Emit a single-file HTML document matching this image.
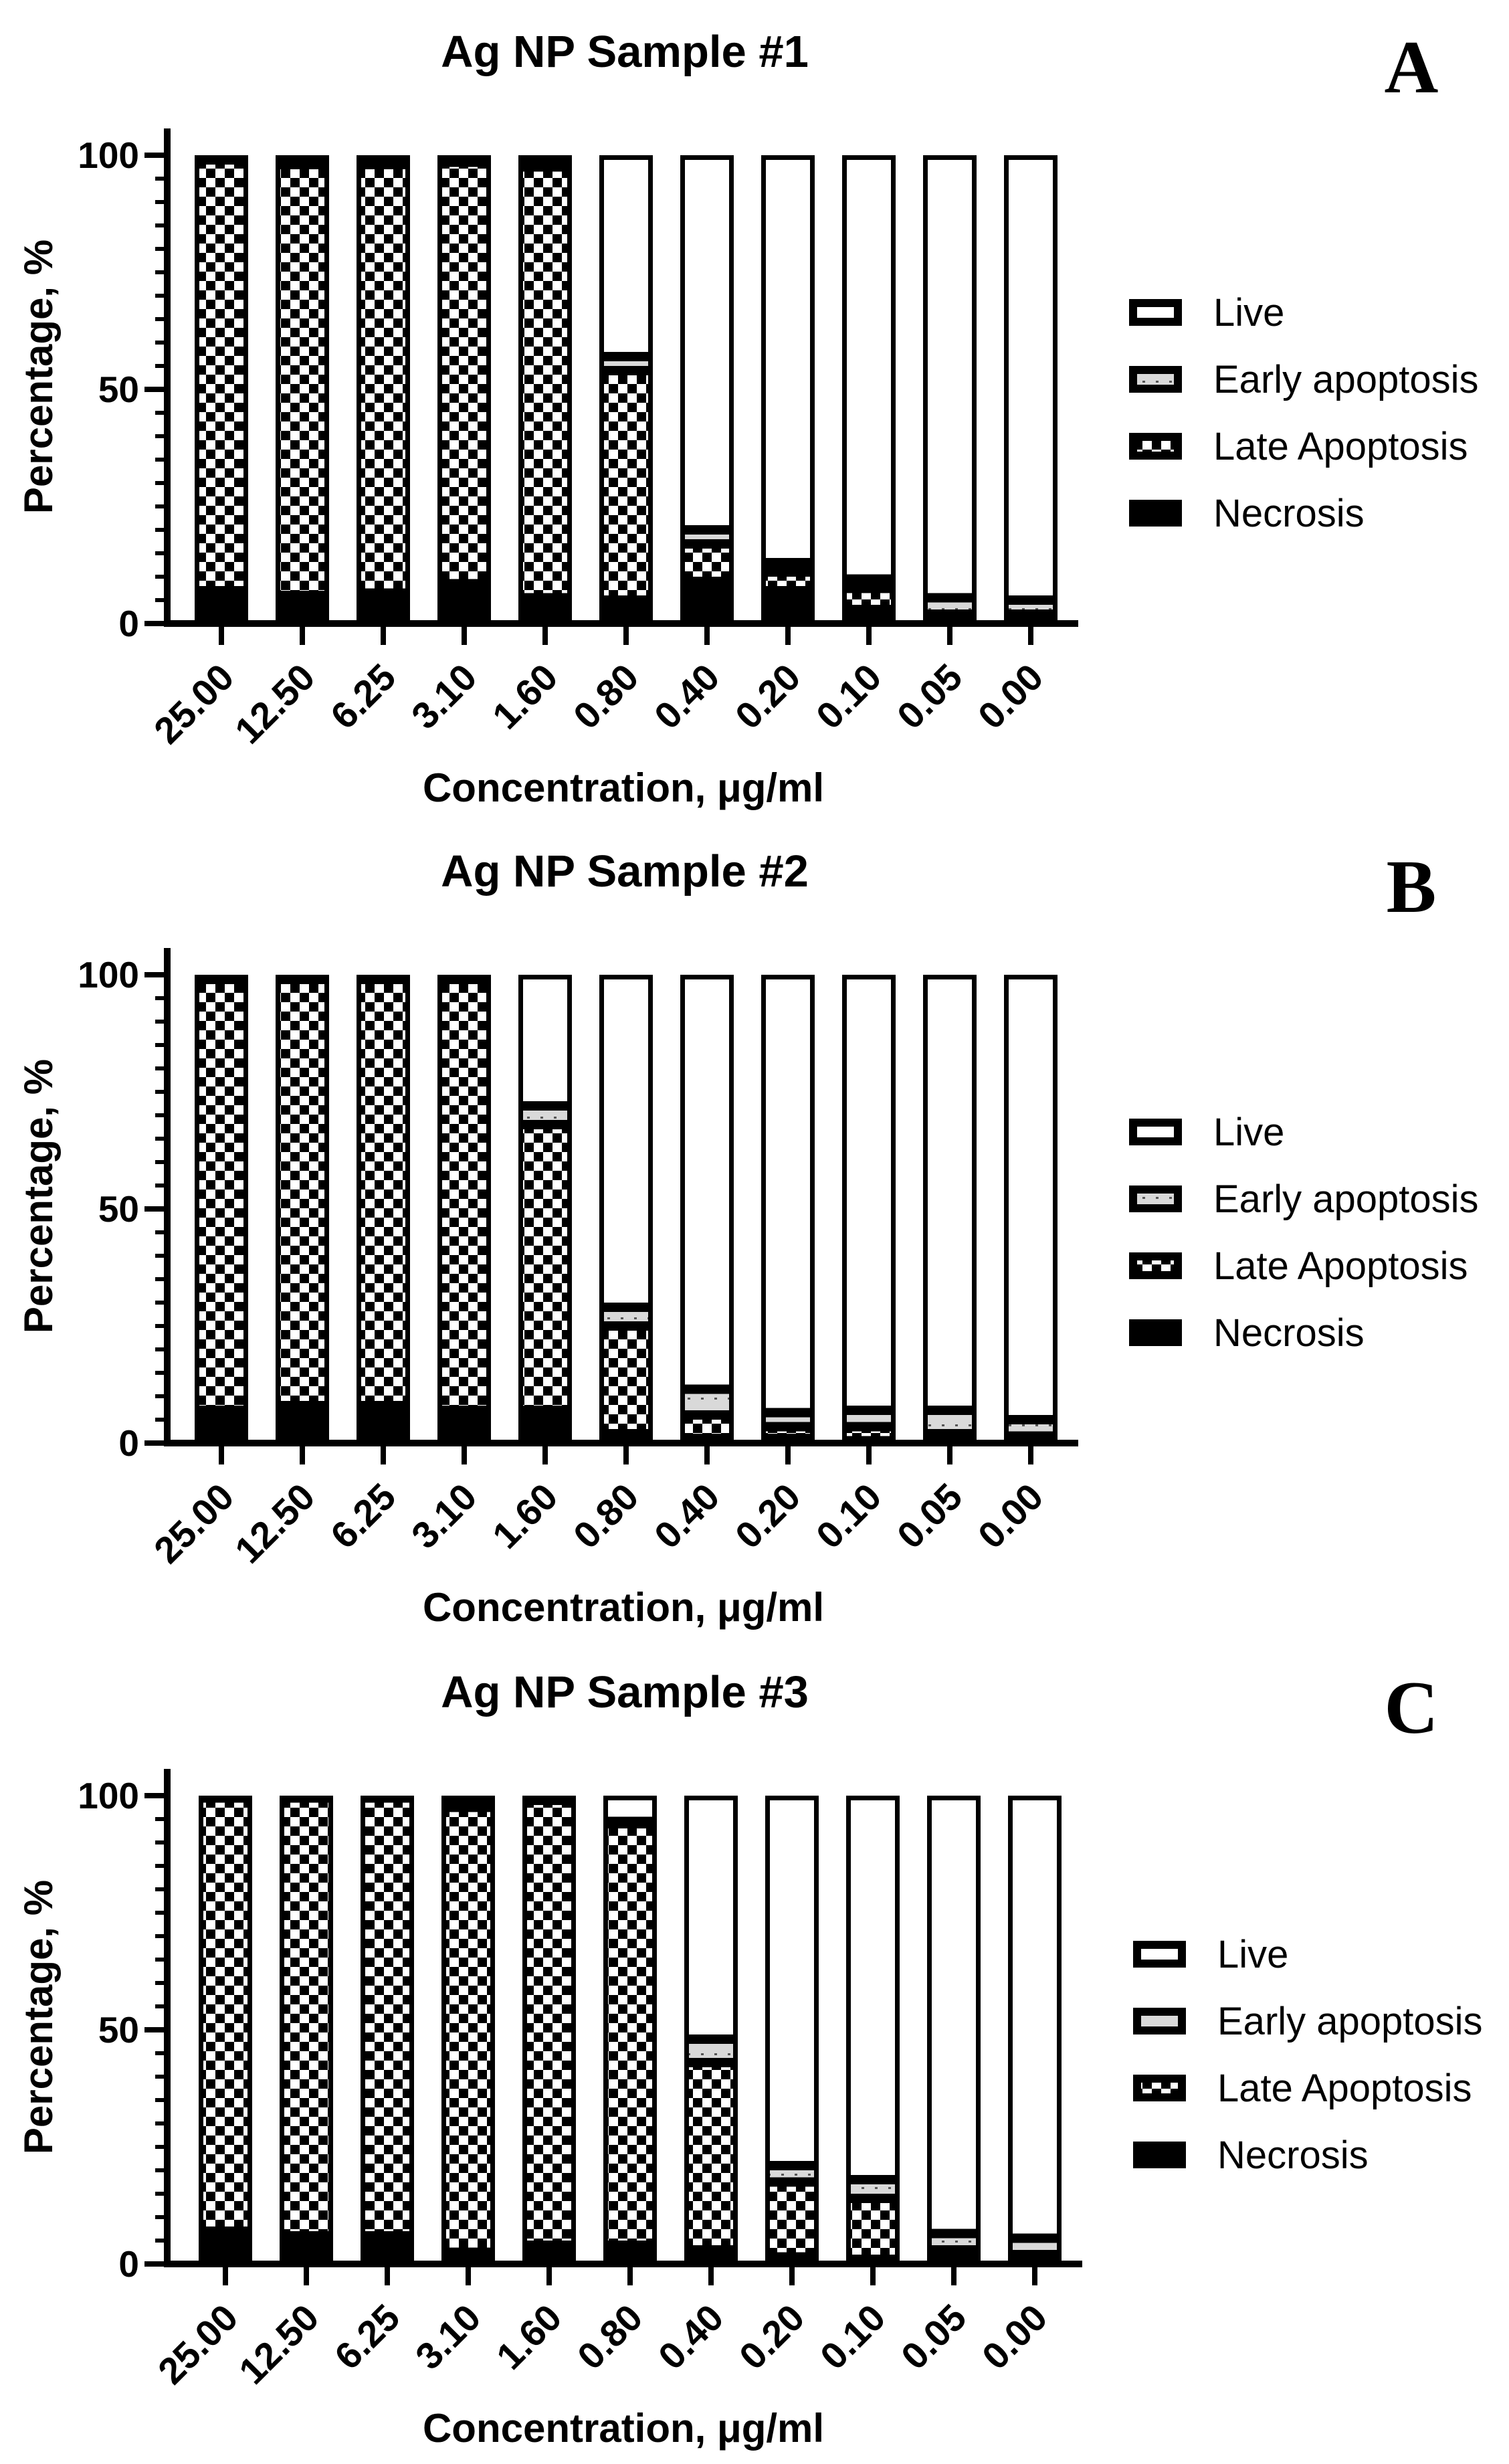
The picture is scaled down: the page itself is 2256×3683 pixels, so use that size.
<!DOCTYPE html>
<html><head><meta charset="utf-8"><style>
html,body{margin:0;padding:0;background:#fff;}
svg{display:block;}
text{font-family:"Liberation Sans",Arial,sans-serif;fill:#000;}
</style></head>
<body>
<svg id="fig" width="2256" height="3683" viewBox="0 0 2256 3683" xmlns="http://www.w3.org/2000/svg">
<defs>
<pattern id="checker" patternUnits="userSpaceOnUse" width="28" height="28">
<rect width="28" height="28" fill="#fff"/>
<rect x="0" y="0" width="14" height="14" fill="#000"/>
<rect x="14" y="14" width="14" height="14" fill="#000"/>
</pattern>
<pattern id="dots" patternUnits="userSpaceOnUse" width="20" height="20">
<rect width="20" height="20" fill="#d9d9d9"/>
<rect x="8" y="9" width="4" height="3" fill="#555"/>
</pattern>
</defs>
</svg>
<script>
const categories = ["25.00","12.50","6.25","3.10","1.60","0.80","0.40","0.20","0.10","0.05","0.00"];
const yTicks = [0,50,100];
const seriesNames = ["Live","Early apoptosis","Late Apoptosis","Necrosis"];
// Panel A
const necrosisA = [7,6,6.5,8.5,5.5,5,9,7,3,1,1];
const lateA     = [92,92,91.5,90,92,49,8,4,4.5,1,1];
const earlyA    = [0.5,1,1,0.5,1.5,3,3,2,2,3.5,3];
// Panel B
const necrosisB = [7,8,8,7,7,2,1,1,0.5,1,0.5];
const lateB     = [92,91,91,92,61,23,5,2.5,3,1,1];
const earlyB    = [0.5,0.5,0.5,0.5,4,4,5.5,3,3.5,5,3.5];
// Panel C
const necrosisC = [7,6,6,2.5,4,4,3,1.5,1,1.5,0.5];
const lateC     = [92.5,93.5,93.5,95,95,90,40,16,13,1.5,1.5];
const earlyC    = [0.3,0.3,0.3,1,0.5,0.5,5,3.5,4,3.5,3.5];

const NS="http://www.w3.org/2000/svg";
const svg=document.getElementById('fig');
function mk(tag,attrs,parent){const e=document.createElementNS(NS,tag);for(const k in attrs)e.setAttribute(k,attrs[k]);(parent||svg).appendChild(e);return e;}

const panels=[
 {title:"Ag NP Sample #1",letter:"A",dy:0,dx:0,N:necrosisA,L:lateA,E:earlyA},
 {title:"Ag NP Sample #2",letter:"B",dy:1225,dx:0,N:necrosisB,L:lateB,E:earlyB},
 {title:"Ag NP Sample #3",letter:"C",dy:2452,dx:6,N:necrosisC,L:lateC,E:earlyC}
];

panels.forEach((p,pi)=>{
 const g=mk('g',{});
 
 
 const y0=932+p.dy, y100=232+p.dy;
 const ys=v=>y0+(y100-y0)*v/100;
 const xs=i=>331+p.dx+i*121;
 const bw=80, sw=7;
 const t=mk('text',{x:934,y:100+p.dy,'text-anchor':'middle','font-size':67,'font-weight':'bold'},g);
 t.textContent=p.title;
 
 
 const lt=mk('text',{x:2110,y:138+p.dy,'text-anchor':'middle','font-size':112,'font-weight':'bold',style:'font-family:"Liberation Serif",serif'},g);
 lt.textContent=p.letter;
 
 
 categories.forEach((c,i)=>{
  const n=p.N[i],l=p.L[i],e=p.E[i];
  const segs=[[0,n,'#000','necrosis'],[n,n+l,'url(#checker)','late-apoptosis'],[n+l,n+l+e,'url(#dots)','early-apoptosis'],[n+l+e,100,'#fff','live']];
  segs.forEach(s=>{
   if(s[1]-s[0]<=0.05)return;
   const top=ys(s[1]),bot=ys(s[0]);
   const h=bot-top;
   let r;
   if(h<=sw+2){
    r=mk('rect',{x:xs(i)-bw/2,y:top,width:bw,height:h,fill:'#000'},g);
   } else {
    r=mk('rect',{x:xs(i)-bw/2+sw/2,y:top+sw/2,width:bw-sw,height:h-sw,fill:s[2],stroke:'#000','stroke-width':sw},g);
   }
   
   
  });
  const tk=mk('line',{x1:xs(i),x2:xs(i),y1:y0,y2:y0+32,stroke:'#000','stroke-width':8},g);
  
  
  const tl=mk('text',{x:0,y:0,'text-anchor':'end','font-size':56,'font-weight':'bold',transform:`translate(${xs(i)+22},${y0+84}) rotate(-45)`},g);
  tl.textContent=c;
  
  
 });
 const ya=mk('line',{x1:250,x2:250,y1:y0-740,y2:y0+5,stroke:'#000','stroke-width':10},g);
 
 
 const xa=mk('line',{x1:245,x2:1612+p.dx,y1:y0,y2:y0,stroke:'#000','stroke-width':10},g);
 
 
 for(let v=0;v<=100;v+=5){
  const major=v%50===0;
  const m=mk('line',{x1:major?216:232,x2:250,y1:ys(v),y2:ys(v),stroke:'#000','stroke-width':major?8:6},g);
  
  
 }
 yTicks.forEach(v=>{
  const tx=mk('text',{x:208,y:ys(v)+19,'text-anchor':'end','font-size':55,'font-weight':'bold'},g);
  tx.textContent=String(v);
  
  
 });
 const yt=mk('text',{x:0,y:0,'text-anchor':'middle','font-size':60,'font-weight':'bold',transform:`translate(78,${563+p.dy}) rotate(-90)`},g);
 yt.textContent="Percentage, %";
 
 
 const xt=mk('text',{x:932,y:1198+p.dy,'text-anchor':'middle','font-size':60,'font-weight':'bold'},g);
 xt.textContent="Concentration, μg/ml";
 
 
 const fills=['#fff','url(#dots)','url(#checker)','#000'];
 seriesNames.forEach((s,k)=>{
  const cy=467+k*100+p.dy+(pi===2?2:0);
  const lx=1688+(pi===2?6:0);
  const b=mk('rect',{x:lx+6,y:cy-14,width:67,height:28,fill:fills[k],stroke:'#000','stroke-width':12},g);
  
  
  const lt2=mk('text',{x:lx+126,y:cy+20,'font-size':58},g);
  lt2.textContent=s;
  
  
 });
});
</script>
</body></html>
